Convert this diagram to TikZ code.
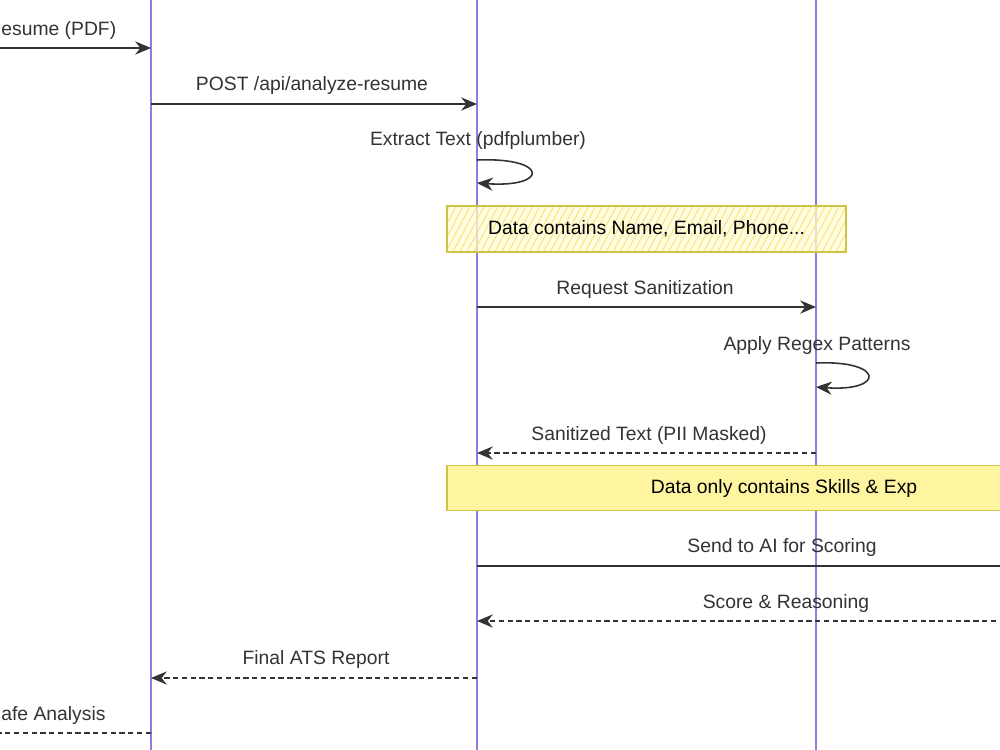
\documentclass[tikz,border=0pt]{standalone}
\usepackage{fontspec}
\setmainfont{Liberation Sans}
\usetikzlibrary{arrows.meta,patterns.meta}
\definecolor{vida}{RGB}{150,120,225}
\definecolor{tinta}{RGB}{51,51,51}
\definecolor{notafondo}{RGB}{255,245,160}
\definecolor{notaclara}{RGB}{255,251,215}
\definecolor{notarayas}{RGB}{242,230,110}
\definecolor{notaborde}{RGB}{205,195,70}

\begin{document}
\begin{tikzpicture}[x=0.02cm,y=-0.02cm,font=\fontsize{11}{13}\selectfont,
    vidaline/.style={draw=vida,line width=1.3pt},
    msg/.style={draw=tinta,line width=0.9pt,-{Stealth[length=9pt,width=7.5pt]}},
    resp/.style={msg,dash pattern=on 3pt off 2pt},
    etiqueta/.style={text=tinta,inner sep=0pt},
    nota/.style={draw=notaborde,line width=0.8pt,text=black,inner sep=0pt}]
        \clip (0,0) rectangle (1000,750);
        % Lineas de vida
        \coordinate (feT) at (151,0);   \coordinate (feB) at (151,750);
        \coordinate (apiT) at (477,0);  \coordinate (apiB) at (477,750);
        \coordinate (sanT) at (816,0);  \coordinate (sanB) at (816,750);
        \draw[vidaline] (feT) -- (feB);
        \draw[vidaline] (apiT) -- (apiB);
        \draw[vidaline] (sanT) -- (sanB);
        % Notas
        \node[nota, minimum width=7.98cm, minimum height=0.92cm,
            preaction={fill=notaclara, fill opacity=.75},
            pattern={Lines[angle=62,distance=3.5pt,line width=.5pt]}, pattern color=notarayas]
            (nota1) at (646.5,229) {Data contains Name, Email, Phone...};
        \node[nota, fill=notafondo, minimum width=13.48cm, minimum height=0.9cm]
            (nota2) at (784,488) {Data only contains Skills \& Exp};
        % Mensaje 1: subida
        \coordinate (m1a) at (-30,48); \coordinate (m1b) at (151,48);
        \draw[msg] (m1a) -- (m1b);
        \node[etiqueta, anchor=west] (l1) at (1,30) {esume (PDF)};
        % Mensaje 2: POST
        \coordinate (m2a) at (151,104); \coordinate (m2b) at (477,104);
        \draw[msg] (m2a) -- (m2b);
        \node[etiqueta] (l2) at (312,86) {POST /api/analyze-resume};
        % Extraer texto (bucle)
        \coordinate (m3a) at (477,160); \coordinate (m3b) at (477,183);
        \draw[msg] (m3a) .. controls (549,157) and (549,188) .. (m3b);
        \node[etiqueta] (l3) at (478,141) {Extract Text (pdfplumber)};
        % Sanitizacion
        \coordinate (m4a) at (477,307); \coordinate (m4b) at (816,307);
        \draw[msg] (m4a) -- (m4b);
        \node[etiqueta] (l4) at (645,289) {Request Sanitization};
        \coordinate (m5a) at (816,363); \coordinate (m5b) at (816,387);
        \draw[msg] (m5a) .. controls (885,360) and (885,392) .. (m5b);
        \node[etiqueta] (l5) at (817,345) {Apply Regex Patterns};
        \draw[resp] (m4b |- 0,453) coordinate (m6a) -- (m4a |- 0,453) coordinate (m6b);
        \node[etiqueta] (l6) at (649,435) {Sanitized Text (PII Masked)};
        % IA
        \coordinate (m7a) at (477,566); \coordinate (m7b) at (1040,566);
        \draw[msg] (m7a) -- (m7b);
        \node[etiqueta] (l7) at (782,547) {Send to AI for Scoring};
        \coordinate (m8a) at (1040,621); \coordinate (m8b) at (477,621);
        \draw[resp] (m8a) -- (m8b);
        \node[etiqueta] (l8) at (786,603) {Score \& Reasoning};
        % Respuestas finales
        \coordinate (m9a) at (477,678); \coordinate (m9b) at (151,678);
        \draw[resp] (m9a) -- (m9b);
        \node[etiqueta] (l9) at (316,659) {Final ATS Report};
        \coordinate (m10a) at (151,733); \coordinate (m10b) at (-40,733);
        \draw[resp] (m10a) -- (m10b);
        \node[etiqueta, anchor=west] (l10) at (1,715) {afe Analysis};
\end{tikzpicture}
\end{document}
